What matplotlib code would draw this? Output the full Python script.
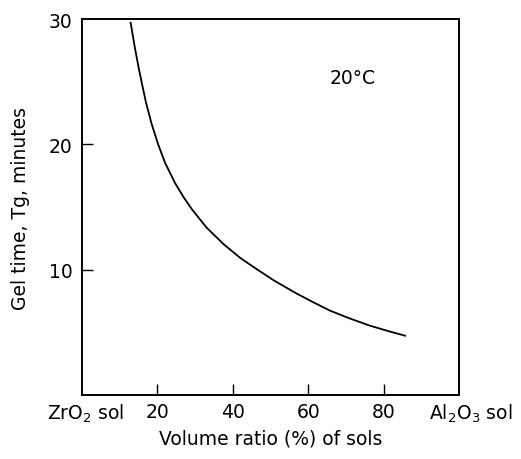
import matplotlib
matplotlib.use("Agg")
import matplotlib.pyplot as plt
import matplotlib.transforms as mtransforms

# Data
ratio = [12.9, 14.0, 15.0, 16.0, 17.0, 18.5, 20.2, 22.0, 24.7, 27.0, 29.1,
         33.0, 37.5, 42.0, 46.3, 51.0, 56.5, 61.0, 65.8, 71.0, 76.4, 81.0, 85.7]
gel_time = [29.7, 27.75, 26.15, 24.7, 23.3, 21.6, 20.0, 18.55, 16.9, 15.76, 14.84,
            13.37, 12.05, 10.93, 10.05, 9.12, 8.17, 7.45, 6.73, 6.11, 5.53, 5.12, 4.73]

x_ticks = [0, 20, 40, 60, 80, 100]
x_tick_labels = ["ZrO$_2$ sol", "20", "40", "60", "80", "Al$_2$O$_3$ sol"]
y_ticks = [10, 20, 30]
y_tick_labels = ["10", "20", "30"]

plt.rcParams['font.family'] = ['DejaVu Sans']
plt.rcParams['mathtext.fontset'] = 'dejavusans'

fig = plt.figure(figsize=(5.21, 4.60), dpi=100)
ax = fig.add_axes([82/521, 1-396/460, (459-82)/521, (396-20)/460])

ax.plot(ratio, gel_time, color='black', linewidth=1.3, solid_joinstyle='round')

ax.set_xlim(0, 100)
ax.set_ylim(0, 30)
ax.set_xticks(x_ticks)
ax.set_xticklabels(x_tick_labels, fontsize=13.5)
ax.set_yticks(y_ticks)
ax.set_yticklabels(y_tick_labels, fontsize=13.5)

ax.tick_params(axis='both', direction='in', length=8, width=1.0, color='black')
ax.tick_params(axis='x', pad=5)
ax.tick_params(axis='y', pad=7)
xt = ax.xaxis.get_major_ticks()
xt[0].tick1line.set_visible(False)
xt[-1].tick1line.set_visible(False)
yt = ax.yaxis.get_major_ticks()
yt[-1].tick1line.set_visible(False)

# shift the end labels slightly as in the reference
labels = ax.get_xticklabels()
labels[-1].set_transform(labels[-1].get_transform() +
                         mtransforms.ScaledTranslation(12/100, 0, fig.dpi_scale_trans))
labels[0].set_transform(labels[0].get_transform() +
                        mtransforms.ScaledTranslation(3/100, 0, fig.dpi_scale_trans))

for s in ax.spines.values():
    s.set_linewidth(1.4)

ax.set_xlabel("Volume ratio (%) of sols", fontsize=13.5, labelpad=3)
ax.set_ylabel("Gel time, Tg, minutes", fontsize=13.5, labelpad=13)

ax.text(71.9, 25.3, "20°C", fontsize=13.5, ha='center', va='center')

fig.savefig("out.png", dpi=100)
